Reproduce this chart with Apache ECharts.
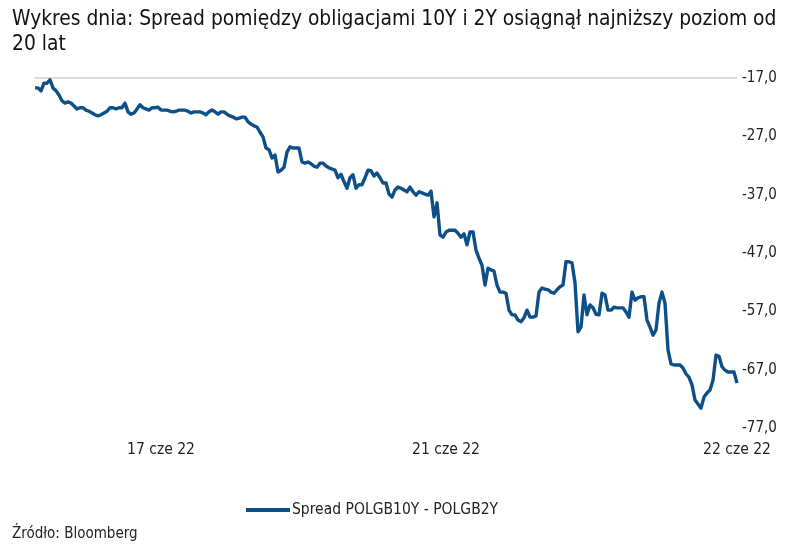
<!DOCTYPE html>
<html>
<head>
<meta charset="utf-8">
<script src="https://cdn.jsdelivr.net/npm/echarts@6/dist/echarts.min.js"></script>
<style>
html,body{margin:0;padding:0;background:#fff;}
#c{width:800px;height:549px;}
</style>
</head>
<body>
<div id="c"></div>
<script>
var titleText = 'Wykres dnia: Spread pomiędzy obligacjami 10Y i 2Y osiągnął najniższy poziom od\n20 lat';
var sourceText = 'Źródło: Bloomberg';
var seriesName = 'Spread POLGB10Y - POLGB2Y';

var spreadValues = [
-18.7,-18.7,-19.2,-17.9,-17.9,-17.3,-18.7,-19.2,-19.9,-20.9,
-21.3,-21.1,-21.3,-21.8,-22.3,-22.1,-22.1,-22.5,-22.7,-23.0,
-23.3,-23.5,-23.3,-23.0,-22.7,-22.1,-22.1,-22.3,-22.1,-22.1,
-21.3,-22.8,-23.2,-23.0,-22.3,-21.6,-22.1,-22.3,-22.5,-22.1,
-22.1,-22.0,-22.5,-22.5,-22.5,-22.7,-22.8,-22.7,-22.5,-22.5,
-22.5,-22.7,-23.0,-22.8,-22.8,-22.8,-23.0,-23.3,-22.8,-22.5,
-22.8,-23.2,-22.8,-22.8,-23.2,-23.5,-23.7,-24.0,-23.9,-23.7,
-23.7,-24.5,-24.9,-25.2,-25.4,-26.3,-27.1,-29.0,-29.3,-30.7,
-30.2,-33.1,-32.8,-32.3,-29.7,-28.8,-29.0,-29.0,-29.0,-31.4,
-31.6,-31.4,-31.7,-32.1,-32.3,-31.6,-31.6,-32.1,-32.4,-32.6,
-32.8,-34.1,-33.5,-34.8,-35.9,-34.1,-33.6,-35.9,-35.3,-35.3,
-34.1,-32.8,-32.9,-33.8,-33.3,-34.1,-35.0,-35.0,-36.9,-37.4,
-36.2,-35.7,-35.9,-36.2,-36.5,-35.7,-36.5,-37.1,-36.5,-36.7,
-36.9,-37.1,-36.4,-40.8,-38.4,-43.9,-44.3,-43.4,-43.1,-43.1,
-43.1,-43.6,-44.3,-43.7,-45.6,-43.4,-43.4,-46.5,-47.9,-49.1,
-52.5,-49.6,-49.9,-50.1,-52.5,-53.7,-53.7,-53.9,-56.8,-57.6,
-57.6,-58.5,-58.8,-58.1,-56.8,-58.0,-58.0,-57.8,-53.7,-53.0,
-53.2,-53.3,-53.7,-53.9,-53.3,-52.8,-52.5,-48.5,-48.5,-48.7,
-52.1,-60.5,-59.7,-54.2,-57.6,-55.9,-56.4,-57.5,-57.6,-53.9,
-54.2,-56.8,-56.8,-56.3,-56.4,-56.4,-56.4,-57.1,-58.0,-53.7,
-55.1,-54.7,-54.5,-54.5,-58.5,-59.7,-61.1,-60.2,-55.6,-53.7,
-55.6,-63.6,-66.0,-66.2,-66.2,-66.2,-66.7,-67.7,-68.3,-69.6,
-72.2,-72.9,-73.6,-71.7,-71.0,-70.5,-68.8,-64.5,-64.7,-66.5,
-67.1,-67.4,-67.4,-67.4,-69.3
];

// tick labels on the time axis and the observation index where each sits
var tickIndex = [42, 137, 234];
var tickLabels = ['17 cze 22', '21 cze 22', '22 cze 22'];

var yMin = -77, yMax = -17, yStep = 10;

var categories = spreadValues.map(function (v, i) { return String(i); });

var FONT = "'Liberation Sans Narrow', 'DejaVu Sans Condensed', 'Liberation Sans', sans-serif";

var chart = echarts.init(document.getElementById('c'), null, {renderer: 'canvas'});
chart.setOption({
  animation: false,
  backgroundColor: '#ffffff',
  textStyle: {fontFamily: FONT},
  title: [{
    text: titleText,
    left: 7, top: 2,
    textStyle: {fontFamily: FONT, fontSize: 20.8, fontWeight: 'normal', color: '#111', lineHeight: 25}
  }, {
    text: sourceText,
    left: 7, top: 522,
    textStyle: {fontFamily: FONT, fontSize: 15, fontWeight: 'normal', color: '#222'}
  }],
  legend: {
    data: [seriesName],
    left: 241, top: 497,
    icon: 'rect', itemWidth: 44, itemHeight: 4, itemGap: 5,
    textStyle: {fontFamily: FONT, fontSize: 15.5, color: '#222', padding: [0, 0, 0, -3]}
  },
  grid: {left: 35, right: 63, top: 78, bottom: 121, containLabel: false},
  xAxis: [{
    type: 'category', position: 'top', data: categories, boundaryGap: false,
    axisLine: {show: true, lineStyle: {color: '#d0d0d0', width: 1.5}},
    axisTick: {show: false}, axisLabel: {show: false}, splitLine: {show: false}
  }, {
    type: 'category', position: 'bottom', data: categories, boundaryGap: false,
    axisLine: {show: false}, axisTick: {show: false}, splitLine: {show: false},
    axisLabel: {
      show: true, margin: 14, fontFamily: FONT, fontSize: 15.5, color: '#222',
      interval: function (i) { return tickIndex.indexOf(i) >= 0; },
      formatter: function (v, i) { var k = tickIndex.indexOf(i); return k >= 0 ? tickLabels[k] : ''; }
    }
  }],
  yAxis: {
    type: 'value', position: 'right', min: yMin, max: yMax, interval: yStep,
    axisLine: {show: false}, axisTick: {show: false}, splitLine: {show: false},
    axisLabel: {
      margin: 5, fontFamily: FONT, fontSize: 15, color: '#222',
      formatter: function (v) { return v.toFixed(1).replace('.', ','); }
    }
  },
  series: [{
    name: seriesName, type: 'line', xAxisIndex: 0, data: spreadValues,
    symbol: 'none', smooth: false,
    lineStyle: {color: '#0d5089', width: 3.4, join: 'round'},
    itemStyle: {color: '#0d5089'}
  }]
});
</script>
</body>
</html>
